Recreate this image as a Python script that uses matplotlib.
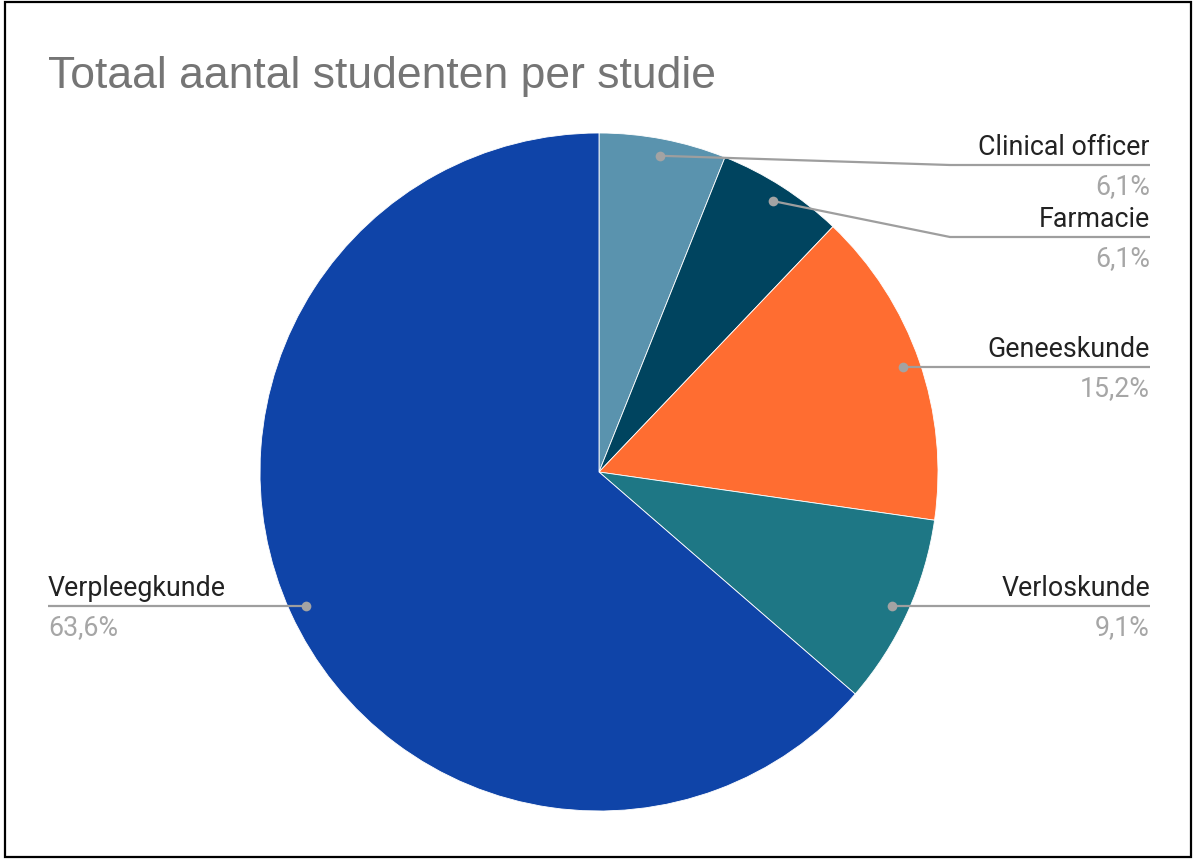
import numpy as np
import matplotlib.pyplot as plt
from matplotlib.patches import Rectangle

W, H = 1193, 859

studies = ["Clinical officer", "Farmacie", "Geneeskunde", "Verloskunde", "Verpleegkunde"]
students = [2, 2, 5, 3, 21]
pct_labels = ["6,1%", "6,1%", "15,2%", "9,1%", "63,6%"]
colors = ["#5a93ae", "#00445f", "#ff6d31", "#1e7785", "#0f44a8"]

# layout (pixels, y measured from top)
cx, cy, R = 599, 472, 339
label_y = [165, 237, None, None, None]   # None -> same height as the dot
elbow_x = 950
right_x, left_x = 1150, 48

fig = plt.figure(figsize=(W / 100, H / 100), dpi=100)
ax = fig.add_axes([0, 0, 1, 1])

ax.pie(students, colors=colors, startangle=90, counterclock=False,
       center=(cx, H - cy), radius=R,
       wedgeprops=dict(edgecolor="white", linewidth=0.6))
ax.set_xlim(0, W)
ax.set_ylim(0, H)
ax.set_aspect("equal")
ax.axis("off")

ax.text(48, H - 88, "Totaal aantal studenten per studie", fontsize=32,
        color="#757575", family="Liberation Sans", ha="left", va="baseline")

fr = np.array(students) / sum(students)
mids = 90 - (np.cumsum(fr) - fr / 2) * 360
line_col = "#9e9e9e"
for name, pct, ang, ly in zip(studies, pct_labels, mids, label_y):
    dx = 0.95 * R * np.cos(np.radians(ang))
    dy = 0.95 * R * np.sin(np.radians(ang))
    px, py = cx + dx, H - cy + dy
    yl = py if ly is None else H - ly
    if dx > 0:
        if ly is None:
            xs, ys = [px, right_x], [yl, yl]
        else:
            xs, ys = [px, elbow_x, right_x], [py, yl, yl]
        tx, ha = right_x, "right"
    else:
        xs, ys = [px, left_x], [yl, yl]
        tx, ha = left_x, "left"
    ax.plot(xs, ys, color=line_col, lw=1.6, solid_capstyle="butt")
    ax.plot(px, py, "o", color="#a3a3a3", ms=7, mec="none")
    ax.text(tx, yl + 10, name, fontsize=19.3, color="#222222", family="Roboto",
            ha=ha, va="baseline")
    ax.text(tx, yl - 29, pct, fontsize=19.3, color="#a6a6a6", family="Roboto",
            ha=ha, va="baseline")

fig.patches.append(Rectangle((5, 2), 1186, 855, transform=None, fill=False,
                             edgecolor="black", lw=1.6))

fig.savefig("out.png", dpi=100, facecolor="white")
